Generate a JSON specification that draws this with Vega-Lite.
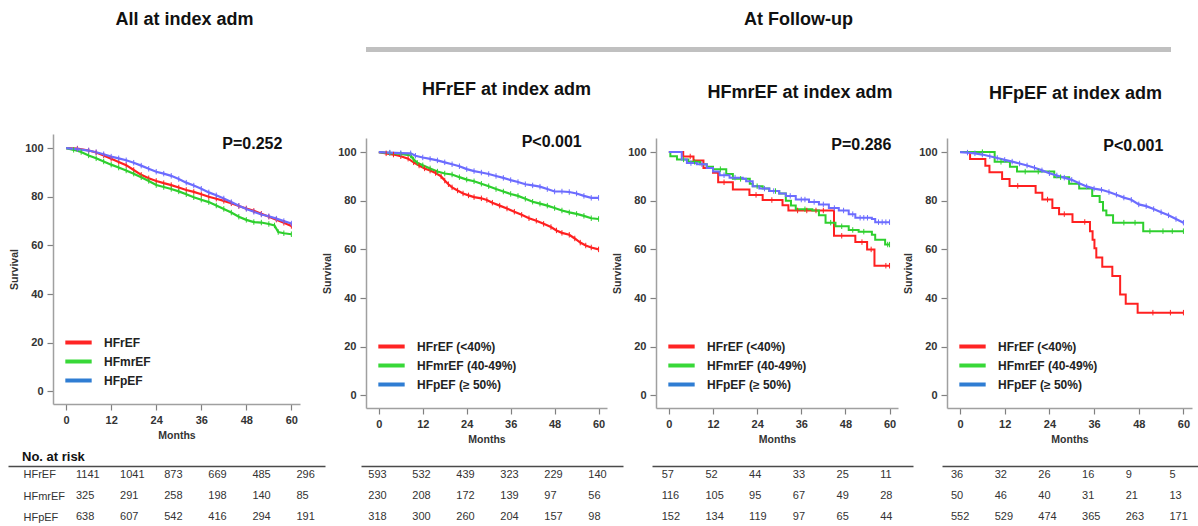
{
"$schema": "https://vega.github.io/schema/vega-lite/v6.json",
"padding": {"left": 8, "top": 11, "right": 0, "bottom": 0},
"background": "white",
"config": {
 "font": "Liberation Sans",
 "view": {"stroke": null},
 "axis": {"grid": false, "domainColor": "#a0a0a0", "domainWidth": 1.5, "tickColor": "#808080", "tickSize": 6, "tickWidth": 1.2, "labelFontSize": 11, "labelFontWeight": "bold", "labelColor": "#333", "labelPadding": 4, "titleFontSize": 10.5, "titleFontWeight": "bold", "titleColor": "#333", "titlePadding": 5},
 "title": {"fontSize": 18, "fontWeight": "bold", "color": "#111"},
 "legend": {"orient": "bottom-left", "offset": 15, "symbolType": "M-1.55,0L1.55,0", "symbolSize": 289, "symbolStrokeWidth": 4, "labelFontSize": 12, "labelFontWeight": "bold", "labelColor": "#222", "rowPadding": 0, "labelOffset": 15, "padding": 0},
 "point": {"opacity": 1}
},
"datasets": {
 "km": [
  {"p":1,"g":"HFrEF","m":0,"s":100,"c":0},{"p":1,"g":"HFrEF","m":3,"s":99.8,"c":1},{"p":1,"g":"HFrEF","m":6,"s":99,"c":1},{"p":1,"g":"HFrEF","m":8,"s":98.2,"c":1},{"p":1,"g":"HFrEF","m":10,"s":97,"c":1},{"p":1,"g":"HFrEF","m":12,"s":95.6,"c":1},{"p":1,"g":"HFrEF","m":14,"s":94.3,"c":1},{"p":1,"g":"HFrEF","m":16,"s":93,"c":1},{"p":1,"g":"HFrEF","m":18,"s":91,"c":1},{"p":1,"g":"HFrEF","m":20,"s":89,"c":1},{"p":1,"g":"HFrEF","m":22,"s":87.6,"c":1},{"p":1,"g":"HFrEF","m":24,"s":86.5,"c":1},{"p":1,"g":"HFrEF","m":26,"s":85.6,"c":1},{"p":1,"g":"HFrEF","m":28,"s":84.8,"c":1},{"p":1,"g":"HFrEF","m":30,"s":83.8,"c":1},{"p":1,"g":"HFrEF","m":32,"s":82.8,"c":1},{"p":1,"g":"HFrEF","m":34,"s":82,"c":1},{"p":1,"g":"HFrEF","m":36,"s":81,"c":1},{"p":1,"g":"HFrEF","m":38,"s":80,"c":1},{"p":1,"g":"HFrEF","m":40,"s":79.2,"c":1},{"p":1,"g":"HFrEF","m":42,"s":78.3,"c":1},{"p":1,"g":"HFrEF","m":44,"s":77.3,"c":1},{"p":1,"g":"HFrEF","m":46,"s":76.2,"c":1},{"p":1,"g":"HFrEF","m":48,"s":75.2,"c":1},{"p":1,"g":"HFrEF","m":50,"s":74.2,"c":1},{"p":1,"g":"HFrEF","m":52,"s":73,"c":1},{"p":1,"g":"HFrEF","m":54,"s":71.8,"c":1},{"p":1,"g":"HFrEF","m":56,"s":70.6,"c":1},{"p":1,"g":"HFrEF","m":58,"s":69.3,"c":1},{"p":1,"g":"HFrEF","m":60,"s":68,"c":1},
  {"p":1,"g":"HFmrEF","m":0,"s":100,"c":0},{"p":1,"g":"HFmrEF","m":2,"s":99.3,"c":1},{"p":1,"g":"HFmrEF","m":4,"s":98.4,"c":1},{"p":1,"g":"HFmrEF","m":6,"s":97,"c":1},{"p":1,"g":"HFmrEF","m":8,"s":95.8,"c":1},{"p":1,"g":"HFmrEF","m":10,"s":94.5,"c":1},{"p":1,"g":"HFmrEF","m":12,"s":93.2,"c":1},{"p":1,"g":"HFmrEF","m":14,"s":92,"c":1},{"p":1,"g":"HFmrEF","m":16,"s":90.8,"c":1},{"p":1,"g":"HFmrEF","m":18,"s":89.5,"c":1},{"p":1,"g":"HFmrEF","m":20,"s":88,"c":1},{"p":1,"g":"HFmrEF","m":22,"s":86.5,"c":1},{"p":1,"g":"HFmrEF","m":24,"s":84.8,"c":1},{"p":1,"g":"HFmrEF","m":26,"s":84,"c":1},{"p":1,"g":"HFmrEF","m":28,"s":83.2,"c":1},{"p":1,"g":"HFmrEF","m":30,"s":82.2,"c":1},{"p":1,"g":"HFmrEF","m":32,"s":81,"c":1},{"p":1,"g":"HFmrEF","m":34,"s":79.8,"c":1},{"p":1,"g":"HFmrEF","m":36,"s":78.8,"c":1},{"p":1,"g":"HFmrEF","m":38,"s":77.8,"c":1},{"p":1,"g":"HFmrEF","m":40,"s":76.4,"c":1},{"p":1,"g":"HFmrEF","m":42,"s":75,"c":1},{"p":1,"g":"HFmrEF","m":44,"s":73.5,"c":1},{"p":1,"g":"HFmrEF","m":46,"s":71.8,"c":1},{"p":1,"g":"HFmrEF","m":48,"s":70.5,"c":1},{"p":1,"g":"HFmrEF","m":50,"s":69.6,"c":1},{"p":1,"g":"HFmrEF","m":52,"s":69.4,"c":1},{"p":1,"g":"HFmrEF","m":54,"s":68.8,"c":1},{"p":1,"g":"HFmrEF","m":55.5,"s":68.2,"c":1},{"p":1,"g":"HFmrEF","m":56.5,"s":65.5,"c":1},{"p":1,"g":"HFmrEF","m":58,"s":65,"c":1},{"p":1,"g":"HFmrEF","m":60,"s":64.6,"c":1},
  {"p":1,"g":"HFpEF","m":0,"s":100,"c":0},{"p":1,"g":"HFpEF","m":3,"s":99.6,"c":1},{"p":1,"g":"HFpEF","m":6,"s":99,"c":1},{"p":1,"g":"HFpEF","m":8,"s":98.3,"c":1},{"p":1,"g":"HFpEF","m":10,"s":97.5,"c":1},{"p":1,"g":"HFpEF","m":12,"s":96.5,"c":1},{"p":1,"g":"HFpEF","m":14,"s":95.8,"c":1},{"p":1,"g":"HFpEF","m":16,"s":95,"c":1},{"p":1,"g":"HFpEF","m":18,"s":94,"c":1},{"p":1,"g":"HFpEF","m":20,"s":92.8,"c":1},{"p":1,"g":"HFpEF","m":22,"s":91.5,"c":1},{"p":1,"g":"HFpEF","m":24,"s":90.3,"c":1},{"p":1,"g":"HFpEF","m":26,"s":89.5,"c":1},{"p":1,"g":"HFpEF","m":28,"s":88.6,"c":1},{"p":1,"g":"HFpEF","m":30,"s":87.3,"c":1},{"p":1,"g":"HFpEF","m":32,"s":85.8,"c":1},{"p":1,"g":"HFpEF","m":34,"s":84.6,"c":1},{"p":1,"g":"HFpEF","m":36,"s":83.3,"c":1},{"p":1,"g":"HFpEF","m":38,"s":81.8,"c":1},{"p":1,"g":"HFpEF","m":40,"s":80.6,"c":1},{"p":1,"g":"HFpEF","m":42,"s":79.3,"c":1},{"p":1,"g":"HFpEF","m":44,"s":77.8,"c":1},{"p":1,"g":"HFpEF","m":46,"s":76.3,"c":1},{"p":1,"g":"HFpEF","m":48,"s":75,"c":1},{"p":1,"g":"HFpEF","m":50,"s":73.8,"c":1},{"p":1,"g":"HFpEF","m":52,"s":72.7,"c":1},{"p":1,"g":"HFpEF","m":54,"s":72,"c":1},{"p":1,"g":"HFpEF","m":56,"s":71,"c":1},{"p":1,"g":"HFpEF","m":58,"s":70,"c":1},{"p":1,"g":"HFpEF","m":60,"s":69,"c":1},

  {"p":2,"g":"HFrEF","m":0,"s":100,"c":0},{"p":2,"g":"HFrEF","m":2,"s":99.5,"c":1},{"p":2,"g":"HFrEF","m":4,"s":99,"c":1},{"p":2,"g":"HFrEF","m":6,"s":98.3,"c":1},{"p":2,"g":"HFrEF","m":8,"s":97.3,"c":1},{"p":2,"g":"HFrEF","m":9.5,"s":95.8,"c":1},{"p":2,"g":"HFrEF","m":11,"s":94.5,"c":1},{"p":2,"g":"HFrEF","m":12.5,"s":93.3,"c":1},{"p":2,"g":"HFrEF","m":14,"s":92.4,"c":1},{"p":2,"g":"HFrEF","m":15.5,"s":91.4,"c":1},{"p":2,"g":"HFrEF","m":17,"s":90,"c":1},{"p":2,"g":"HFrEF","m":18,"s":88.3,"c":1},{"p":2,"g":"HFrEF","m":19,"s":86.8,"c":1},{"p":2,"g":"HFrEF","m":20,"s":85.5,"c":1},{"p":2,"g":"HFrEF","m":21.5,"s":84.2,"c":1},{"p":2,"g":"HFrEF","m":23,"s":83,"c":1},{"p":2,"g":"HFrEF","m":24.5,"s":82.2,"c":1},{"p":2,"g":"HFrEF","m":26,"s":81.5,"c":1},{"p":2,"g":"HFrEF","m":28,"s":81,"c":1},{"p":2,"g":"HFrEF","m":29.5,"s":80.3,"c":1},{"p":2,"g":"HFrEF","m":31,"s":79.2,"c":1},{"p":2,"g":"HFrEF","m":33,"s":78,"c":1},{"p":2,"g":"HFrEF","m":35,"s":76.8,"c":1},{"p":2,"g":"HFrEF","m":37,"s":75.5,"c":1},{"p":2,"g":"HFrEF","m":39,"s":74.2,"c":1},{"p":2,"g":"HFrEF","m":41,"s":72.8,"c":1},{"p":2,"g":"HFrEF","m":43,"s":71.8,"c":1},{"p":2,"g":"HFrEF","m":45,"s":70.5,"c":1},{"p":2,"g":"HFrEF","m":47,"s":69.2,"c":1},{"p":2,"g":"HFrEF","m":48.5,"s":67.8,"c":1},{"p":2,"g":"HFrEF","m":50,"s":66.8,"c":1},{"p":2,"g":"HFrEF","m":52,"s":66,"c":1},{"p":2,"g":"HFrEF","m":53.5,"s":64.5,"c":1},{"p":2,"g":"HFrEF","m":55,"s":62.8,"c":1},{"p":2,"g":"HFrEF","m":56.5,"s":61.6,"c":1},{"p":2,"g":"HFrEF","m":58,"s":60.8,"c":1},{"p":2,"g":"HFrEF","m":60,"s":60,"c":1},
  {"p":2,"g":"HFmrEF","m":0,"s":100,"c":0},{"p":2,"g":"HFmrEF","m":3,"s":99.6,"c":1},{"p":2,"g":"HFmrEF","m":6,"s":99.3,"c":1},{"p":2,"g":"HFmrEF","m":8.7,"s":98.6,"c":1},{"p":2,"g":"HFmrEF","m":9.5,"s":97,"c":1},{"p":2,"g":"HFmrEF","m":10.5,"s":95.6,"c":1},{"p":2,"g":"HFmrEF","m":12,"s":94.6,"c":1},{"p":2,"g":"HFmrEF","m":14,"s":93.3,"c":1},{"p":2,"g":"HFmrEF","m":16,"s":92,"c":1},{"p":2,"g":"HFmrEF","m":18,"s":91.2,"c":1},{"p":2,"g":"HFmrEF","m":20,"s":90.8,"c":1},{"p":2,"g":"HFmrEF","m":22,"s":89.7,"c":1},{"p":2,"g":"HFmrEF","m":24,"s":88.7,"c":1},{"p":2,"g":"HFmrEF","m":26,"s":88,"c":1},{"p":2,"g":"HFmrEF","m":28,"s":87,"c":1},{"p":2,"g":"HFmrEF","m":30,"s":86,"c":1},{"p":2,"g":"HFmrEF","m":32,"s":84.8,"c":1},{"p":2,"g":"HFmrEF","m":34,"s":83.8,"c":1},{"p":2,"g":"HFmrEF","m":36,"s":82.8,"c":1},{"p":2,"g":"HFmrEF","m":38,"s":82,"c":1},{"p":2,"g":"HFmrEF","m":40,"s":80.8,"c":1},{"p":2,"g":"HFmrEF","m":42,"s":79.6,"c":1},{"p":2,"g":"HFmrEF","m":44,"s":78.8,"c":1},{"p":2,"g":"HFmrEF","m":46,"s":78,"c":1},{"p":2,"g":"HFmrEF","m":48,"s":77,"c":1},{"p":2,"g":"HFmrEF","m":50,"s":76,"c":1},{"p":2,"g":"HFmrEF","m":52,"s":75.2,"c":1},{"p":2,"g":"HFmrEF","m":54,"s":74.6,"c":1},{"p":2,"g":"HFmrEF","m":56,"s":73.8,"c":1},{"p":2,"g":"HFmrEF","m":58,"s":72.8,"c":1},{"p":2,"g":"HFmrEF","m":60,"s":72.5,"c":1},
  {"p":2,"g":"HFpEF","m":0,"s":100,"c":0},{"p":2,"g":"HFpEF","m":3,"s":99.8,"c":1},{"p":2,"g":"HFpEF","m":6,"s":99.6,"c":1},{"p":2,"g":"HFpEF","m":8.7,"s":99.5,"c":1},{"p":2,"g":"HFpEF","m":10,"s":98.5,"c":1},{"p":2,"g":"HFpEF","m":12,"s":97.8,"c":1},{"p":2,"g":"HFpEF","m":14,"s":97.2,"c":1},{"p":2,"g":"HFpEF","m":16,"s":96.6,"c":1},{"p":2,"g":"HFpEF","m":18,"s":95.8,"c":1},{"p":2,"g":"HFpEF","m":20,"s":95,"c":1},{"p":2,"g":"HFpEF","m":22,"s":94.2,"c":1},{"p":2,"g":"HFpEF","m":24,"s":93,"c":1},{"p":2,"g":"HFpEF","m":26,"s":92.2,"c":1},{"p":2,"g":"HFpEF","m":28,"s":91.6,"c":1},{"p":2,"g":"HFpEF","m":30,"s":91,"c":1},{"p":2,"g":"HFpEF","m":32,"s":90.2,"c":1},{"p":2,"g":"HFpEF","m":34,"s":89.4,"c":1},{"p":2,"g":"HFpEF","m":36,"s":88.5,"c":1},{"p":2,"g":"HFpEF","m":38,"s":87.7,"c":1},{"p":2,"g":"HFpEF","m":40,"s":86.8,"c":1},{"p":2,"g":"HFpEF","m":42,"s":86.3,"c":1},{"p":2,"g":"HFpEF","m":44,"s":85.8,"c":1},{"p":2,"g":"HFpEF","m":46,"s":84.8,"c":1},{"p":2,"g":"HFpEF","m":48,"s":83.8,"c":1},{"p":2,"g":"HFpEF","m":50,"s":83.8,"c":1},{"p":2,"g":"HFpEF","m":52,"s":83.6,"c":1},{"p":2,"g":"HFpEF","m":54,"s":83,"c":1},{"p":2,"g":"HFpEF","m":56,"s":82,"c":1},{"p":2,"g":"HFpEF","m":58,"s":81.2,"c":1},{"p":2,"g":"HFpEF","m":60,"s":81.2,"c":1},

  {"p":3,"g":"HFrEF","m":0,"s":100,"c":0},{"p":3,"g":"HFrEF","m":3.9,"s":98.2,"c":0},{"p":3,"g":"HFrEF","m":5.8,"s":98.2,"c":1},{"p":3,"g":"HFrEF","m":6.7,"s":96.5,"c":0},{"p":3,"g":"HFrEF","m":9.4,"s":93.5,"c":0},{"p":3,"g":"HFrEF","m":12,"s":91.5,"c":0},{"p":3,"g":"HFrEF","m":13.4,"s":87.6,"c":0},{"p":3,"g":"HFrEF","m":15,"s":87.6,"c":1},{"p":3,"g":"HFrEF","m":17.4,"s":84.6,"c":0},{"p":3,"g":"HFrEF","m":21.9,"s":82.4,"c":0},{"p":3,"g":"HFrEF","m":23.7,"s":82.4,"c":1},{"p":3,"g":"HFrEF","m":25.5,"s":80.3,"c":0},{"p":3,"g":"HFrEF","m":28,"s":80.3,"c":1},{"p":3,"g":"HFrEF","m":30.9,"s":78.2,"c":0},{"p":3,"g":"HFrEF","m":32.5,"s":76,"c":0},{"p":3,"g":"HFrEF","m":35,"s":76,"c":1},{"p":3,"g":"HFrEF","m":37.5,"s":76,"c":1},{"p":3,"g":"HFrEF","m":40,"s":76,"c":1},{"p":3,"g":"HFrEF","m":42,"s":76,"c":1},{"p":3,"g":"HFrEF","m":44.9,"s":65.6,"c":0},{"p":3,"g":"HFrEF","m":47,"s":65.6,"c":1},{"p":3,"g":"HFrEF","m":50.7,"s":63,"c":0},{"p":3,"g":"HFrEF","m":52.5,"s":63,"c":1},{"p":3,"g":"HFrEF","m":53.9,"s":60,"c":0},{"p":3,"g":"HFrEF","m":55,"s":60,"c":1},{"p":3,"g":"HFrEF","m":55.9,"s":53.3,"c":0},{"p":3,"g":"HFrEF","m":59,"s":53.3,"c":1},{"p":3,"g":"HFrEF","m":60,"s":53.3,"c":1},
  {"p":3,"g":"HFmrEF","m":0,"s":100,"c":0},{"p":3,"g":"HFmrEF","m":0.4,"s":98.3,"c":0},{"p":3,"g":"HFmrEF","m":2.2,"s":97,"c":0},{"p":3,"g":"HFmrEF","m":4,"s":97,"c":1},{"p":3,"g":"HFmrEF","m":5.3,"s":96,"c":0},{"p":3,"g":"HFmrEF","m":7,"s":96,"c":1},{"p":3,"g":"HFmrEF","m":8.5,"s":95,"c":0},{"p":3,"g":"HFmrEF","m":10.3,"s":94,"c":0},{"p":3,"g":"HFmrEF","m":12,"s":93,"c":0},{"p":3,"g":"HFmrEF","m":14,"s":93,"c":1},{"p":3,"g":"HFmrEF","m":15.6,"s":91,"c":0},{"p":3,"g":"HFmrEF","m":17.4,"s":89,"c":0},{"p":3,"g":"HFmrEF","m":19.5,"s":89,"c":1},{"p":3,"g":"HFmrEF","m":22,"s":87,"c":0},{"p":3,"g":"HFmrEF","m":22.8,"s":86,"c":0},{"p":3,"g":"HFmrEF","m":24,"s":86,"c":1},{"p":3,"g":"HFmrEF","m":25.5,"s":85,"c":0},{"p":3,"g":"HFmrEF","m":27.3,"s":84,"c":0},{"p":3,"g":"HFmrEF","m":29,"s":84,"c":1},{"p":3,"g":"HFmrEF","m":30,"s":83,"c":0},{"p":3,"g":"HFmrEF","m":31.8,"s":80,"c":0},{"p":3,"g":"HFmrEF","m":33.2,"s":78,"c":0},{"p":3,"g":"HFmrEF","m":34.5,"s":76.5,"c":0},{"p":3,"g":"HFmrEF","m":37,"s":76.5,"c":1},{"p":3,"g":"HFmrEF","m":39,"s":76,"c":0},{"p":3,"g":"HFmrEF","m":40.8,"s":74,"c":0},{"p":3,"g":"HFmrEF","m":42.6,"s":71,"c":0},{"p":3,"g":"HFmrEF","m":44,"s":71,"c":1},{"p":3,"g":"HFmrEF","m":45.3,"s":69.5,"c":0},{"p":3,"g":"HFmrEF","m":47,"s":69.5,"c":1},{"p":3,"g":"HFmrEF","m":48.9,"s":68,"c":0},{"p":3,"g":"HFmrEF","m":50,"s":68,"c":1},{"p":3,"g":"HFmrEF","m":51.6,"s":67.3,"c":0},{"p":3,"g":"HFmrEF","m":53,"s":67.3,"c":1},{"p":3,"g":"HFmrEF","m":55.2,"s":66,"c":0},{"p":3,"g":"HFmrEF","m":56.1,"s":64,"c":0},{"p":3,"g":"HFmrEF","m":58.8,"s":62,"c":0},{"p":3,"g":"HFmrEF","m":59.5,"s":62,"c":1},{"p":3,"g":"HFmrEF","m":60,"s":62,"c":1},
  {"p":3,"g":"HFpEF","m":0,"s":100,"c":0},{"p":3,"g":"HFpEF","m":3.5,"s":97,"c":0},{"p":3,"g":"HFpEF","m":4.9,"s":95.5,"c":0},{"p":3,"g":"HFpEF","m":6,"s":95.5,"c":1},{"p":3,"g":"HFpEF","m":7.6,"s":95,"c":0},{"p":3,"g":"HFpEF","m":9,"s":95,"c":1},{"p":3,"g":"HFpEF","m":10.3,"s":93.5,"c":0},{"p":3,"g":"HFpEF","m":12,"s":92,"c":0},{"p":3,"g":"HFpEF","m":13.8,"s":90.5,"c":0},{"p":3,"g":"HFpEF","m":15,"s":90.5,"c":1},{"p":3,"g":"HFpEF","m":16.5,"s":89.5,"c":0},{"p":3,"g":"HFpEF","m":18,"s":89.5,"c":1},{"p":3,"g":"HFpEF","m":20.1,"s":89,"c":0},{"p":3,"g":"HFpEF","m":21,"s":88,"c":0},{"p":3,"g":"HFpEF","m":22.8,"s":86,"c":0},{"p":3,"g":"HFpEF","m":24.6,"s":85,"c":0},{"p":3,"g":"HFpEF","m":26,"s":85,"c":1},{"p":3,"g":"HFpEF","m":27.3,"s":84,"c":0},{"p":3,"g":"HFpEF","m":28.5,"s":84,"c":1},{"p":3,"g":"HFpEF","m":30,"s":83,"c":0},{"p":3,"g":"HFpEF","m":31.8,"s":82,"c":0},{"p":3,"g":"HFpEF","m":33,"s":82,"c":1},{"p":3,"g":"HFpEF","m":34.5,"s":80.5,"c":0},{"p":3,"g":"HFpEF","m":36,"s":80.5,"c":1},{"p":3,"g":"HFpEF","m":37,"s":80.5,"c":1},{"p":3,"g":"HFpEF","m":38.1,"s":79.5,"c":0},{"p":3,"g":"HFpEF","m":39.5,"s":79.5,"c":1},{"p":3,"g":"HFpEF","m":40.8,"s":78.5,"c":0},{"p":3,"g":"HFpEF","m":42,"s":78.5,"c":1},{"p":3,"g":"HFpEF","m":43.5,"s":77,"c":0},{"p":3,"g":"HFpEF","m":45,"s":77,"c":1},{"p":3,"g":"HFpEF","m":46.2,"s":76,"c":0},{"p":3,"g":"HFpEF","m":47.5,"s":76,"c":1},{"p":3,"g":"HFpEF","m":48.9,"s":74.5,"c":0},{"p":3,"g":"HFpEF","m":50,"s":74.5,"c":1},{"p":3,"g":"HFpEF","m":50.7,"s":73,"c":0},{"p":3,"g":"HFpEF","m":52,"s":73,"c":1},{"p":3,"g":"HFpEF","m":53,"s":73,"c":1},{"p":3,"g":"HFpEF","m":54,"s":73,"c":1},{"p":3,"g":"HFpEF","m":55.2,"s":72.5,"c":0},{"p":3,"g":"HFpEF","m":56.1,"s":71.2,"c":0},{"p":3,"g":"HFpEF","m":57,"s":71.2,"c":1},{"p":3,"g":"HFpEF","m":58,"s":71.2,"c":1},{"p":3,"g":"HFpEF","m":59,"s":71.2,"c":1},{"p":3,"g":"HFpEF","m":60,"s":71.2,"c":1},

  {"p":4,"g":"HFrEF","m":0,"s":100,"c":0},{"p":4,"g":"HFrEF","m":2.7,"s":97.2,"c":0},{"p":4,"g":"HFrEF","m":6.8,"s":94.4,"c":0},{"p":4,"g":"HFrEF","m":7.9,"s":91.7,"c":0},{"p":4,"g":"HFrEF","m":11.3,"s":88.9,"c":0},{"p":4,"g":"HFrEF","m":13.3,"s":86.1,"c":0},{"p":4,"g":"HFrEF","m":15.5,"s":86.1,"c":1},{"p":4,"g":"HFrEF","m":20.3,"s":83.3,"c":0},{"p":4,"g":"HFrEF","m":22.1,"s":80.5,"c":0},{"p":4,"g":"HFrEF","m":23.5,"s":80.5,"c":1},{"p":4,"g":"HFrEF","m":24.8,"s":77,"c":0},{"p":4,"g":"HFrEF","m":26.6,"s":74.5,"c":0},{"p":4,"g":"HFrEF","m":28,"s":74.5,"c":1},{"p":4,"g":"HFrEF","m":30.2,"s":71.3,"c":0},{"p":4,"g":"HFrEF","m":33.5,"s":71.3,"c":1},{"p":4,"g":"HFrEF","m":34.9,"s":67.5,"c":0},{"p":4,"g":"HFrEF","m":35.6,"s":64,"c":0},{"p":4,"g":"HFrEF","m":36.1,"s":60.5,"c":0},{"p":4,"g":"HFrEF","m":36.6,"s":56.7,"c":0},{"p":4,"g":"HFrEF","m":38.2,"s":52.9,"c":0},{"p":4,"g":"HFrEF","m":40.9,"s":49.1,"c":0},{"p":4,"g":"HFrEF","m":43,"s":41.5,"c":0},{"p":4,"g":"HFrEF","m":44.5,"s":37.7,"c":0},{"p":4,"g":"HFrEF","m":47.7,"s":34,"c":0},{"p":4,"g":"HFrEF","m":51.8,"s":34,"c":1},{"p":4,"g":"HFrEF","m":56.5,"s":34,"c":1},{"p":4,"g":"HFrEF","m":60,"s":34,"c":1},
  {"p":4,"g":"HFmrEF","m":0,"s":100,"c":0},{"p":4,"g":"HFmrEF","m":6,"s":100,"c":1},{"p":4,"g":"HFmrEF","m":9.3,"s":96,"c":0},{"p":4,"g":"HFmrEF","m":11,"s":96,"c":1},{"p":4,"g":"HFmrEF","m":13.4,"s":94,"c":0},{"p":4,"g":"HFmrEF","m":15.3,"s":92,"c":0},{"p":4,"g":"HFmrEF","m":17.5,"s":92,"c":1},{"p":4,"g":"HFmrEF","m":21,"s":92,"c":1},{"p":4,"g":"HFmrEF","m":25.3,"s":89.7,"c":0},{"p":4,"g":"HFmrEF","m":27,"s":89.7,"c":1},{"p":4,"g":"HFmrEF","m":29.3,"s":87,"c":0},{"p":4,"g":"HFmrEF","m":32,"s":85,"c":0},{"p":4,"g":"HFmrEF","m":35.5,"s":82,"c":0},{"p":4,"g":"HFmrEF","m":37.5,"s":79.5,"c":0},{"p":4,"g":"HFmrEF","m":38.4,"s":76,"c":0},{"p":4,"g":"HFmrEF","m":39.3,"s":74,"c":0},{"p":4,"g":"HFmrEF","m":41.1,"s":71,"c":0},{"p":4,"g":"HFmrEF","m":44,"s":71,"c":1},{"p":4,"g":"HFmrEF","m":47,"s":71,"c":1},{"p":4,"g":"HFmrEF","m":49.2,"s":67.5,"c":0},{"p":4,"g":"HFmrEF","m":51,"s":67.5,"c":1},{"p":4,"g":"HFmrEF","m":54.5,"s":67.5,"c":1},{"p":4,"g":"HFmrEF","m":57,"s":67.5,"c":1},{"p":4,"g":"HFmrEF","m":60,"s":67.5,"c":1},
  {"p":4,"g":"HFpEF","m":0,"s":100,"c":0},{"p":4,"g":"HFpEF","m":2,"s":99.8,"c":1},{"p":4,"g":"HFpEF","m":4,"s":99.5,"c":1},{"p":4,"g":"HFpEF","m":6,"s":99,"c":1},{"p":4,"g":"HFpEF","m":8,"s":98.3,"c":1},{"p":4,"g":"HFpEF","m":10,"s":97.6,"c":1},{"p":4,"g":"HFpEF","m":12,"s":96.8,"c":1},{"p":4,"g":"HFpEF","m":14,"s":96.1,"c":1},{"p":4,"g":"HFpEF","m":16,"s":95.3,"c":1},{"p":4,"g":"HFpEF","m":18,"s":94.5,"c":1},{"p":4,"g":"HFpEF","m":20,"s":93.6,"c":1},{"p":4,"g":"HFpEF","m":22,"s":92.5,"c":1},{"p":4,"g":"HFpEF","m":24,"s":91.3,"c":1},{"p":4,"g":"HFpEF","m":26,"s":90.4,"c":1},{"p":4,"g":"HFpEF","m":28,"s":89.5,"c":1},{"p":4,"g":"HFpEF","m":30,"s":88.6,"c":1},{"p":4,"g":"HFpEF","m":32,"s":87.2,"c":1},{"p":4,"g":"HFpEF","m":34,"s":85.9,"c":1},{"p":4,"g":"HFpEF","m":36,"s":85,"c":1},{"p":4,"g":"HFpEF","m":38,"s":84.5,"c":1},{"p":4,"g":"HFpEF","m":40,"s":83.6,"c":1},{"p":4,"g":"HFpEF","m":42,"s":82.5,"c":1},{"p":4,"g":"HFpEF","m":44,"s":81.3,"c":1},{"p":4,"g":"HFpEF","m":46,"s":80.4,"c":1},{"p":4,"g":"HFpEF","m":48,"s":78.5,"c":1},{"p":4,"g":"HFpEF","m":50,"s":77.8,"c":1},{"p":4,"g":"HFpEF","m":52,"s":76.6,"c":1},{"p":4,"g":"HFpEF","m":54,"s":75.3,"c":1},{"p":4,"g":"HFpEF","m":56,"s":74,"c":1},{"p":4,"g":"HFpEF","m":58,"s":72.5,"c":1},{"p":4,"g":"HFpEF","m":60,"s":71,"c":1}
 ],
 "risk": [
  {"p":1,"g":"HFrEF","m":0,"n":"1141"},{"p":1,"g":"HFrEF","m":12,"n":"1041"},{"p":1,"g":"HFrEF","m":24,"n":"873"},{"p":1,"g":"HFrEF","m":36,"n":"669"},{"p":1,"g":"HFrEF","m":48,"n":"485"},{"p":1,"g":"HFrEF","m":60,"n":"296"},
  {"p":1,"g":"HFmrEF","m":0,"n":"325"},{"p":1,"g":"HFmrEF","m":12,"n":"291"},{"p":1,"g":"HFmrEF","m":24,"n":"258"},{"p":1,"g":"HFmrEF","m":36,"n":"198"},{"p":1,"g":"HFmrEF","m":48,"n":"140"},{"p":1,"g":"HFmrEF","m":60,"n":"85"},
  {"p":1,"g":"HFpEF","m":0,"n":"638"},{"p":1,"g":"HFpEF","m":12,"n":"607"},{"p":1,"g":"HFpEF","m":24,"n":"542"},{"p":1,"g":"HFpEF","m":36,"n":"416"},{"p":1,"g":"HFpEF","m":48,"n":"294"},{"p":1,"g":"HFpEF","m":60,"n":"191"},
  {"p":2,"g":"HFrEF","m":0,"n":"593"},{"p":2,"g":"HFrEF","m":12,"n":"532"},{"p":2,"g":"HFrEF","m":24,"n":"439"},{"p":2,"g":"HFrEF","m":36,"n":"323"},{"p":2,"g":"HFrEF","m":48,"n":"229"},{"p":2,"g":"HFrEF","m":60,"n":"140"},
  {"p":2,"g":"HFmrEF","m":0,"n":"230"},{"p":2,"g":"HFmrEF","m":12,"n":"208"},{"p":2,"g":"HFmrEF","m":24,"n":"172"},{"p":2,"g":"HFmrEF","m":36,"n":"139"},{"p":2,"g":"HFmrEF","m":48,"n":"97"},{"p":2,"g":"HFmrEF","m":60,"n":"56"},
  {"p":2,"g":"HFpEF","m":0,"n":"318"},{"p":2,"g":"HFpEF","m":12,"n":"300"},{"p":2,"g":"HFpEF","m":24,"n":"260"},{"p":2,"g":"HFpEF","m":36,"n":"204"},{"p":2,"g":"HFpEF","m":48,"n":"157"},{"p":2,"g":"HFpEF","m":60,"n":"98"},
  {"p":3,"g":"HFrEF","m":0,"n":"57"},{"p":3,"g":"HFrEF","m":12,"n":"52"},{"p":3,"g":"HFrEF","m":24,"n":"44"},{"p":3,"g":"HFrEF","m":36,"n":"33"},{"p":3,"g":"HFrEF","m":48,"n":"25"},{"p":3,"g":"HFrEF","m":60,"n":"11"},
  {"p":3,"g":"HFmrEF","m":0,"n":"116"},{"p":3,"g":"HFmrEF","m":12,"n":"105"},{"p":3,"g":"HFmrEF","m":24,"n":"95"},{"p":3,"g":"HFmrEF","m":36,"n":"67"},{"p":3,"g":"HFmrEF","m":48,"n":"49"},{"p":3,"g":"HFmrEF","m":60,"n":"28"},
  {"p":3,"g":"HFpEF","m":0,"n":"152"},{"p":3,"g":"HFpEF","m":12,"n":"134"},{"p":3,"g":"HFpEF","m":24,"n":"119"},{"p":3,"g":"HFpEF","m":36,"n":"97"},{"p":3,"g":"HFpEF","m":48,"n":"65"},{"p":3,"g":"HFpEF","m":60,"n":"44"},
  {"p":4,"g":"HFrEF","m":0,"n":"36"},{"p":4,"g":"HFrEF","m":12,"n":"32"},{"p":4,"g":"HFrEF","m":24,"n":"26"},{"p":4,"g":"HFrEF","m":36,"n":"16"},{"p":4,"g":"HFrEF","m":48,"n":"9"},{"p":4,"g":"HFrEF","m":60,"n":"5"},
  {"p":4,"g":"HFmrEF","m":0,"n":"50"},{"p":4,"g":"HFmrEF","m":12,"n":"46"},{"p":4,"g":"HFmrEF","m":24,"n":"40"},{"p":4,"g":"HFmrEF","m":36,"n":"31"},{"p":4,"g":"HFmrEF","m":48,"n":"21"},{"p":4,"g":"HFmrEF","m":60,"n":"13"},
  {"p":4,"g":"HFpEF","m":0,"n":"552"},{"p":4,"g":"HFpEF","m":12,"n":"529"},{"p":4,"g":"HFpEF","m":24,"n":"474"},{"p":4,"g":"HFpEF","m":36,"n":"365"},{"p":4,"g":"HFpEF","m":48,"n":"263"},{"p":4,"g":"HFpEF","m":60,"n":"171"}
 ]
},
"spacing": 6,
"resolve": {"scale": {"x": "independent", "y": "independent", "color": "independent", "stroke": "independent"}, "legend": {"color": "independent"}},
"vconcat": [
 {
  "hconcat": [
   {"width": 1, "height": 1, "data": {"values": [{"v": 0}]}, "mark": {"type": "rule", "opacity": 0}, "encoding": {"y": {"field": "v", "type": "quantitative", "axis": null}}},
   {
    "hconcat": [
     {
      "vconcat": [
       {
        "width": 247, "height": 5,
        "title": {"text": "All at index adm", "offset": 18, "dx": 8},
        "data": {"values": [{"v": 0}]},
        "mark": {"type": "rule", "opacity": 0},
        "encoding": {"y": {"field": "v", "type": "quantitative", "axis": null}}
       },
       {
        "width": 247, "height": 270,
        "title": {"text": " ", "offset": 35},
        "layer": [
         {"data": {"name": "km"}, "transform": [{"filter": "datum.p == 1"}],
          "mark": {"type": "line", "strokeWidth": 2.2, "interpolate": "linear"},
          "encoding": {
           "x": {"field": "m", "type": "quantitative", "scale": {"domain": [-3.5, 62.3], "nice": false, "zero": false}, "axis": {"values": [0,12,24,36,48,60], "title": "Months"}},
           "y": {"field": "s", "type": "quantitative", "scale": {"domain": [-5.2, 105.8], "nice": false, "zero": false}, "axis": {"values": [0,20,40,60,80,100], "title": "Survival"}},
           "stroke": {"field": "g", "type": "nominal", "scale": {"domain": ["HFpEF","HFmrEF","HFrEF"], "range": ["#6c6cff","#2ecf2e","#ff2020"]}, "legend": null}}},
         {"data": {"name": "km"}, "transform": [{"filter": "datum.p == 1 && datum.c == 1"}],
          "mark": {"type": "point", "shape": "M0,-1L0,1", "size": 30, "filled": false, "strokeWidth": 1, "opacity": 1},
          "encoding": {"x": {"field": "m", "type": "quantitative"}, "y": {"field": "s", "type": "quantitative"}, "stroke": {"field": "g", "type": "nominal", "legend": null}}},
         {"data": {"name": "km"}, "transform": [{"filter": "false"}],
          "mark": {"type": "line"},
          "encoding": {"x": {"field": "m", "type": "quantitative"}, "y": {"field": "s", "type": "quantitative"},
           "color": {"field": "g", "type": "nominal", "scale": {"domain": ["HFrEF","HFmrEF","HFpEF"], "range": ["#ff2424","#38d838","#2f7dd3"]}, "legend": {"title": null}}}},
         {"data": {"values": [{"t": "P=0.252"}]},
          "mark": {"type": "text", "align": "right", "baseline": "middle", "fontSize": 16, "fontWeight": "bold", "color": "#111"},
          "encoding": {"x": {"datum": 57.6}, "y": {"datum": 101.5}, "text": {"field": "t"}}}
        ]
       }
      ],
      "spacing": 29,
      "resolve": {"scale": {"x": "independent", "y": "independent", "color": "independent", "stroke": "independent"}, "legend": {"color": "independent"}}
     },
     {
      "vconcat": [
       {
        "width": 805, "height": 5,
        "title": {"text": "At Follow-up", "offset": 18, "dx": 30},
        "view": {"fill": "#c0c0c0", "stroke": null},
        "data": {"values": [{"v": 0}]},
        "mark": {"type": "rule", "opacity": 0},
        "encoding": {"y": {"field": "v", "type": "quantitative", "axis": null}}
       },
       {
        "hconcat": [
         {
          "width": 241, "height": 270,
          "title": {"text": "HFrEF at index adm", "offset": 35, "dx": 20},
          "layer": [
           {"data": {"name": "km"}, "transform": [{"filter": "datum.p == 2"}],
            "mark": {"type": "line", "strokeWidth": 2.2, "interpolate": "linear"},
            "encoding": {
             "x": {"field": "m", "type": "quantitative", "scale": {"domain": [-3.5, 62.3], "nice": false, "zero": false}, "axis": {"values": [0,12,24,36,48,60], "title": "Months"}},
             "y": {"field": "s", "type": "quantitative", "scale": {"domain": [-5.2, 105.8], "nice": false, "zero": false}, "axis": {"values": [0,20,40,60,80,100], "title": "Survival"}},
             "stroke": {"field": "g", "type": "nominal", "scale": {"domain": ["HFpEF","HFmrEF","HFrEF"], "range": ["#6c6cff","#2ecf2e","#ff2020"]}, "legend": null}}},
           {"data": {"name": "km"}, "transform": [{"filter": "datum.p == 2 && datum.c == 1"}],
            "mark": {"type": "point", "shape": "M0,-1L0,1", "size": 30, "filled": false, "strokeWidth": 1, "opacity": 1},
            "encoding": {"x": {"field": "m", "type": "quantitative"}, "y": {"field": "s", "type": "quantitative"}, "stroke": {"field": "g", "type": "nominal", "legend": null}}},
           {"data": {"name": "km"}, "transform": [{"filter": "false"}],
            "mark": {"type": "line"},
            "encoding": {"x": {"field": "m", "type": "quantitative"}, "y": {"field": "s", "type": "quantitative"},
             "color": {"field": "g", "type": "nominal", "scale": {"domain": ["HFrEF","HFmrEF","HFpEF"], "range": ["#ff2424","#38d838","#2f7dd3"]}, "legend": {"title": null, "labelExpr": "datum.label == 'HFrEF' ? 'HFrEF (<40%)' : datum.label == 'HFmrEF' ? 'HFmrEF (40-49%)' : 'HFpEF (≥ 50%)'"}}}},
           {"data": {"values": [{"t": "P<0.001"}]},
            "mark": {"type": "text", "align": "right", "baseline": "middle", "fontSize": 16, "fontWeight": "bold", "color": "#111"},
            "encoding": {"x": {"datum": 55.4}, "y": {"datum": 104}, "text": {"field": "t"}}}
          ]
         },
         {
          "width": 242, "height": 270,
          "title": {"text": "HFmrEF at index adm", "offset": 35, "dx": 23},
          "layer": [
           {"data": {"name": "km"}, "transform": [{"filter": "datum.p == 3"}],
            "mark": {"type": "line", "strokeWidth": 2, "interpolate": "step-after"},
            "encoding": {
             "x": {"field": "m", "type": "quantitative", "scale": {"domain": [-3.5, 62.3], "nice": false, "zero": false}, "axis": {"values": [0,12,24,36,48,60], "title": "Months"}},
             "y": {"field": "s", "type": "quantitative", "scale": {"domain": [-5.2, 105.8], "nice": false, "zero": false}, "axis": {"values": [0,20,40,60,80,100], "title": "Survival"}},
             "stroke": {"field": "g", "type": "nominal", "scale": {"domain": ["HFpEF","HFmrEF","HFrEF"], "range": ["#6c6cff","#2ecf2e","#ff2020"]}, "legend": null}}},
           {"data": {"name": "km"}, "transform": [{"filter": "datum.p == 3 && datum.c == 1"}],
            "mark": {"type": "point", "shape": "M0,-1L0,1", "size": 30, "filled": false, "strokeWidth": 1, "opacity": 1},
            "encoding": {"x": {"field": "m", "type": "quantitative"}, "y": {"field": "s", "type": "quantitative"}, "stroke": {"field": "g", "type": "nominal", "legend": null}}},
           {"data": {"name": "km"}, "transform": [{"filter": "false"}],
            "mark": {"type": "line"},
            "encoding": {"x": {"field": "m", "type": "quantitative"}, "y": {"field": "s", "type": "quantitative"},
             "color": {"field": "g", "type": "nominal", "scale": {"domain": ["HFrEF","HFmrEF","HFpEF"], "range": ["#ff2424","#38d838","#2f7dd3"]}, "legend": {"title": null, "labelExpr": "datum.label == 'HFrEF' ? 'HFrEF (<40%)' : datum.label == 'HFmrEF' ? 'HFmrEF (40-49%)' : 'HFpEF (≥ 50%)'"}}}},
           {"data": {"values": [{"t": "P=0.286"}]},
            "mark": {"type": "text", "align": "right", "baseline": "middle", "fontSize": 16, "fontWeight": "bold", "color": "#111"},
            "encoding": {"x": {"datum": 60.5}, "y": {"datum": 103}, "text": {"field": "t"}}}
          ]
         },
         {
          "width": 245, "height": 270,
          "title": {"text": "HFpEF at index adm", "offset": 35, "dx": 6},
          "layer": [
           {"data": {"name": "km"}, "transform": [{"filter": "datum.p == 4 && datum.g != 'HFpEF'"}],
            "mark": {"type": "line", "strokeWidth": 2, "interpolate": "step-after"},
            "encoding": {
             "x": {"field": "m", "type": "quantitative", "scale": {"domain": [-3.5, 62.3], "nice": false, "zero": false}, "axis": {"values": [0,12,24,36,48,60], "title": "Months"}},
             "y": {"field": "s", "type": "quantitative", "scale": {"domain": [-5.2, 105.8], "nice": false, "zero": false}, "axis": {"values": [0,20,40,60,80,100], "title": "Survival"}},
             "stroke": {"field": "g", "type": "nominal", "scale": {"domain": ["HFpEF","HFmrEF","HFrEF"], "range": ["#6c6cff","#2ecf2e","#ff2020"]}, "legend": null}}},
           {"data": {"name": "km"}, "transform": [{"filter": "datum.p == 4 && datum.g == 'HFpEF'"}],
            "mark": {"type": "line", "strokeWidth": 2.2, "interpolate": "linear"},
            "encoding": {"x": {"field": "m", "type": "quantitative"}, "y": {"field": "s", "type": "quantitative"}, "stroke": {"field": "g", "type": "nominal", "legend": null}}},
           {"data": {"name": "km"}, "transform": [{"filter": "datum.p == 4 && datum.c == 1"}],
            "mark": {"type": "point", "shape": "M0,-1L0,1", "size": 30, "filled": false, "strokeWidth": 1, "opacity": 1},
            "encoding": {"x": {"field": "m", "type": "quantitative"}, "y": {"field": "s", "type": "quantitative"}, "stroke": {"field": "g", "type": "nominal", "legend": null}}},
           {"data": {"name": "km"}, "transform": [{"filter": "false"}],
            "mark": {"type": "line"},
            "encoding": {"x": {"field": "m", "type": "quantitative"}, "y": {"field": "s", "type": "quantitative"},
             "color": {"field": "g", "type": "nominal", "scale": {"domain": ["HFrEF","HFmrEF","HFpEF"], "range": ["#ff2424","#38d838","#2f7dd3"]}, "legend": {"title": null, "labelExpr": "datum.label == 'HFrEF' ? 'HFrEF (<40%)' : datum.label == 'HFmrEF' ? 'HFmrEF (40-49%)' : 'HFpEF (≥ 50%)'"}}}},
           {"data": {"values": [{"t": "P<0.001"}]},
            "mark": {"type": "text", "align": "right", "baseline": "middle", "fontSize": 16, "fontWeight": "bold", "color": "#111"},
            "encoding": {"x": {"datum": 54.6}, "y": {"datum": 102.5}, "text": {"field": "t"}}}
          ]
         }
        ],
        "spacing": 5,
        "resolve": {"scale": {"x": "independent", "y": "independent", "color": "independent", "stroke": "independent"}, "legend": {"color": "independent"}}
       }
      ],
      "spacing": 29,
      "resolve": {"scale": {"x": "independent", "y": "independent", "color": "independent", "stroke": "independent"}, "legend": {"color": "independent"}}
     }
    ],
    "spacing": 22,
    "resolve": {"scale": {"x": "independent", "y": "independent", "color": "independent", "stroke": "independent"}, "legend": {"color": "independent"}}
   }
  ],
  "spacing": 0,
  "resolve": {"scale": {"x": "independent", "y": "independent", "color": "independent", "stroke": "independent"}, "legend": {"color": "independent"}}
 },
 {
  "hconcat": [
   {
    "width": 317, "height": 60,
    "title": {"text": "No. at risk", "anchor": "start", "fontSize": 13, "offset": 2, "dx": 14, "color": "#111"},
    "data": {"name": "risk"}, "transform": [{"filter": "datum.p == 1"}],
    "mark": {"type": "text", "align": "left", "baseline": "middle", "fontSize": 11, "color": "#333"},
    "encoding": {
     "x": {"field": "m", "type": "quantitative", "scale": {"domain": [-18.5, 67.76], "nice": false, "zero": false}, "axis": {"orient": "top", "labels": false, "ticks": false, "title": null, "domainColor": "#4a4a4a", "domainWidth": 1.5}},
     "y": {"field": "g", "type": "nominal", "sort": ["HFrEF","HFmrEF","HFpEF"], "scale": {"type": "point", "padding": 0.4}, "axis": {"title": null, "ticks": false, "domain": false, "labelAlign": "left", "labelPadding": -15, "labelFontWeight": "normal", "labelFontSize": 11, "labelColor": "#333"}},
     "text": {"field": "n", "type": "nominal"}}
   },
   {
    "hconcat": [
     {
      "width": 262, "height": 60,
      "data": {"name": "risk"}, "transform": [{"filter": "datum.p == 2"}],
      "mark": {"type": "text", "align": "left", "baseline": "middle", "fontSize": 11, "color": "#333"},
      "encoding": {
       "x": {"field": "m", "type": "quantitative", "scale": {"domain": [-1.99, 69.46], "nice": false, "zero": false}, "axis": {"orient": "top", "labels": false, "ticks": false, "title": null, "domainColor": "#4a4a4a", "domainWidth": 1.5}},
       "y": {"field": "g", "type": "nominal", "sort": ["HFrEF","HFmrEF","HFpEF"], "scale": {"type": "point", "padding": 0.4}, "axis": null},
       "text": {"field": "n", "type": "nominal"}}
     },
     {
      "width": 261, "height": 60,
      "data": {"name": "risk"}, "transform": [{"filter": "datum.p == 3"}],
      "mark": {"type": "text", "align": "left", "baseline": "middle", "fontSize": 11, "color": "#333"},
      "encoding": {
       "x": {"field": "m", "type": "quantitative", "scale": {"domain": [-2.66, 69.0], "nice": false, "zero": false}, "axis": {"orient": "top", "labels": false, "ticks": false, "title": null, "domainColor": "#4a4a4a", "domainWidth": 1.5}},
       "y": {"field": "g", "type": "nominal", "sort": ["HFrEF","HFmrEF","HFpEF"], "scale": {"type": "point", "padding": 0.4}, "axis": null},
       "text": {"field": "n", "type": "nominal"}}
     },
     {
      "width": 256, "height": 60,
      "data": {"name": "risk"}, "transform": [{"filter": "datum.p == 4"}],
      "mark": {"type": "text", "align": "left", "baseline": "middle", "fontSize": 11, "color": "#333"},
      "encoding": {
       "x": {"field": "m", "type": "quantitative", "scale": {"domain": [-2.47, 67.86], "nice": false, "zero": false}, "axis": {"orient": "top", "labels": false, "ticks": false, "title": null, "domainColor": "#4a4a4a", "domainWidth": 1.5}},
       "y": {"field": "g", "type": "nominal", "sort": ["HFrEF","HFmrEF","HFpEF"], "scale": {"type": "point", "padding": 0.4}, "axis": null},
       "text": {"field": "n", "type": "nominal"}}
     }
    ],
    "spacing": 29,
    "resolve": {"scale": {"x": "independent", "y": "independent"}}
   }
  ],
  "spacing": 36,
  "resolve": {"scale": {"x": "independent", "y": "independent"}}
 }
]
}
